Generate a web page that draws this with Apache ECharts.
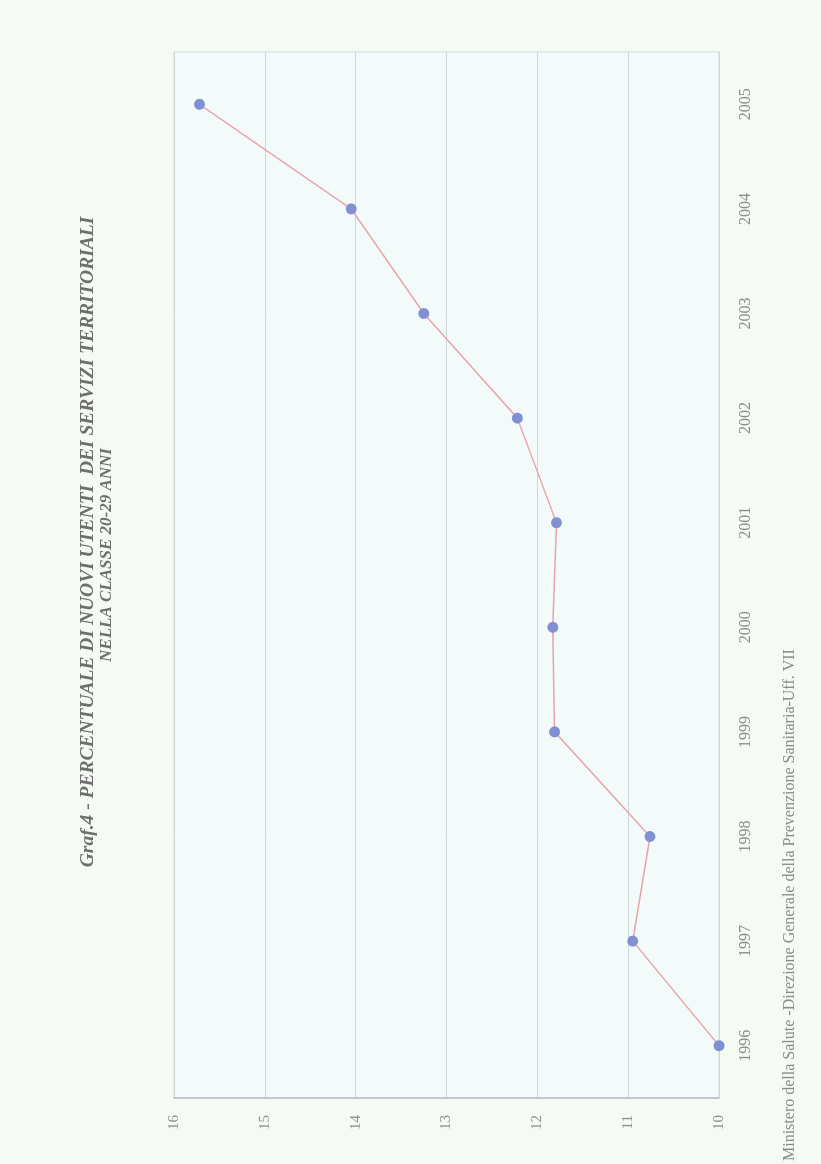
<!DOCTYPE html>
<html>
<head>
<meta charset="utf-8">
<script src="https://cdn.jsdelivr.net/npm/echarts@6/dist/echarts.min.js"></script>
<style>
  html, body { margin: 0; padding: 0; width: 821px; height: 1164px; overflow: hidden; background: #f5faf4; }
  /* the page is printed in landscape: the chart is laid out 1164x821 and turned a quarter left */
  #page {
    position: absolute; left: 0; top: 0;
    width: 1164px; height: 821px;
    transform-origin: 0 0;
    transform: translateY(1164px) rotate(-90deg);
  }
</style>
</head>
<body>
<div id="page"></div>
<script>
// Anni di rilevazione
const years = ['1996', '1997', '1998', '1999', '2000', '2001', '2002', '2003', '2004', '2005'];
// Percentuale di nuovi utenti nella classe 20-29 anni
const percentuali = [10.0, 10.95, 10.76, 11.81, 11.83, 11.79, 12.22, 13.25, 14.05, 15.72];
// Scala dei valori
const valueMin = 10;
const valueMax = 16;
const valueStep = 1;

const titleLine1 = 'Graf.4 - PERCENTUALE DI NUOVI UTENTI  DEI SERVIZI TERRITORIALI';
const titleLine2 = 'NELLA CLASSE 20-29 ANNI';
const sourceNote = 'Ministero della Salute -Direzione Generale della Prevenzione Sanitaria-Uff. VII';

const chart = echarts.init(document.getElementById('page'), null, { renderer: 'canvas', width: 1164, height: 821 });

const titleFont = (size) => 'italic bold ' + size + 'px "Liberation Serif"';

chart.setOption({
  backgroundColor: '#f5faf4',
  animation: false,
  graphic: [
    {
      type: 'text',
      x: 622,
      y: 88,
      style: {
        text: titleLine1,
        font: titleFont(19.5),
        fill: '#6e6e6e',
        align: 'center',
        verticalAlign: 'middle'
      }
    },
    {
      type: 'text',
      x: 609,
      y: 107,
      style: {
        text: titleLine2,
        font: titleFont(17),
        fill: '#6e6e6e',
        align: 'center',
        verticalAlign: 'middle'
      }
    },
    {
      type: 'text',
      x: 3,
      y: 790,
      style: {
        text: sourceNote,
        font: '16px "Liberation Serif"',
        fill: '#8a8a8a',
        align: 'left',
        verticalAlign: 'middle'
      }
    }
  ],
  grid: {
    left: 66,
    right: 52,
    top: 174,
    bottom: 102,
    show: true,
    backgroundColor: '#f3fbfa',
    borderColor: '#d3dbde',
    borderWidth: 1
  },
  xAxis: {
    type: 'category',
    data: years,
    boundaryGap: true,
    axisLine: { show: true, lineStyle: { color: '#cdd5d9', width: 1 } },
    axisTick: { show: false },
    axisLabel: {
      margin: 19,
      fontFamily: 'Liberation Serif',
      fontSize: 16,
      color: '#8c8c8c'
    },
    splitLine: { show: false }
  },
  yAxis: {
    type: 'value',
    min: valueMin,
    max: valueMax,
    interval: valueStep,
    axisLine: { show: true, lineStyle: { color: '#b4bcc0', width: 1.5 } },
    axisTick: { show: false },
    axisLabel: {
      margin: 17,
      fontFamily: 'Liberation Serif',
      fontSize: 15,
      color: '#8c8c8c'
    },
    splitLine: { show: true, lineStyle: { color: '#cfd6da', width: 1 } }
  },
  series: [{
    type: 'line',
    data: percentuali,
    symbol: 'circle',
    symbolSize: 11,
    itemStyle: { color: '#8090d3' },
    lineStyle: { color: '#e9a2aa', width: 1.5 },
    z: 3
  }]
});
</script>
</body>
</html>
